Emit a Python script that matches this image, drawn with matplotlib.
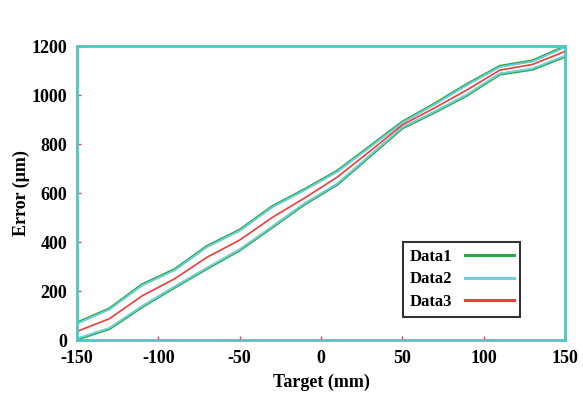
import matplotlib
matplotlib.use("Agg")
import matplotlib.pyplot as plt

# Target positions (mm)
target = [-150, -130, -110, -90, -70, -50, -30, -10, 10, 30, 50, 70, 90, 110, 130, 150]

# Data1: upper and lower bounds
data1_upper = [70, 128, 226, 288, 383, 449, 545, 615, 690, 790, 890, 965, 1045, 1118, 1140, 1198]
data1_lower = [3, 46, 135, 215, 292, 367, 460, 555, 635, 750, 865, 930, 1000, 1085, 1105, 1157]

# Data2: upper and lower bounds
data2_upper = [67, 125, 223, 285, 380, 446, 542, 612, 687, 787, 887, 962, 1042, 1115, 1137, 1195]
data2_lower = [6, 49, 138, 218, 295, 370, 463, 558, 638, 753, 868, 933, 1003, 1088, 1108, 1160]

# Data3: mean error
data3 = [35, 87, 180, 250, 338, 408, 500, 580, 665, 770, 878, 948, 1022, 1102, 1125, 1178]

x_ticks = [-150, -100, -50, 0, 50, 100, 150]
y_ticks = [0, 200, 400, 600, 800, 1000, 1200]

c_green = "#2aa84a"
c_cyan = "#6fcfdc"
c_red = "#f03c3c"
c_frame = "#4cc6c0"

plt.rcParams["font.family"] = ["Liberation Serif", "DejaVu Serif"]
plt.rcParams["font.weight"] = "bold"
plt.rcParams["axes.unicode_minus"] = False

fig = plt.figure(figsize=(5.83, 3.94), dpi=100)
ax = fig.add_axes([0.132, 0.137, 0.837, 0.746])

ax.plot(target, data1_upper, color=c_green, lw=2.0, label="Data1")
ax.plot(target, data1_lower, color=c_green, lw=2.0)
ax.plot(target, data2_upper, color=c_cyan, lw=1.3, label="Data2")
ax.plot(target, data2_lower, color=c_cyan, lw=1.3)
ax.plot(target, data3, color=c_red, lw=1.2, label="Data3")

ax.set_xlim(-150, 150)
ax.set_ylim(0, 1200)
ax.set_xticks(x_ticks)
ax.set_yticks(y_ticks)
ax.tick_params(direction="in", length=3, width=1, color=c_red,
               labelsize=13, pad=7)
for lbl in ax.get_xticklabels() + ax.get_yticklabels():
    lbl.set_fontweight("bold")

for sp in ax.spines.values():
    sp.set_color(c_frame)
    sp.set_linewidth(2)

ax.set_xlabel("Target (mm)", fontsize=13, fontweight="bold", labelpad=5)
ax.set_ylabel("Error (\u03bcm)", fontsize=13, fontweight="bold", labelpad=1)

leg = ax.legend(loc="upper left", bbox_to_anchor=(0.668, 0.333),
                markerfirst=False, frameon=True, fancybox=False,
                shadow=False, prop={"weight": "bold", "size": 12},
                handlelength=2.9, handletextpad=0.8, borderpad=0.4,
                labelspacing=0.4, borderaxespad=0)
leg.get_frame().set_edgecolor("black")
leg.get_frame().set_linewidth(1.5)
for h in leg.get_lines():
    h.set_linewidth(2.2)

fig.savefig("out.png", dpi=100)
